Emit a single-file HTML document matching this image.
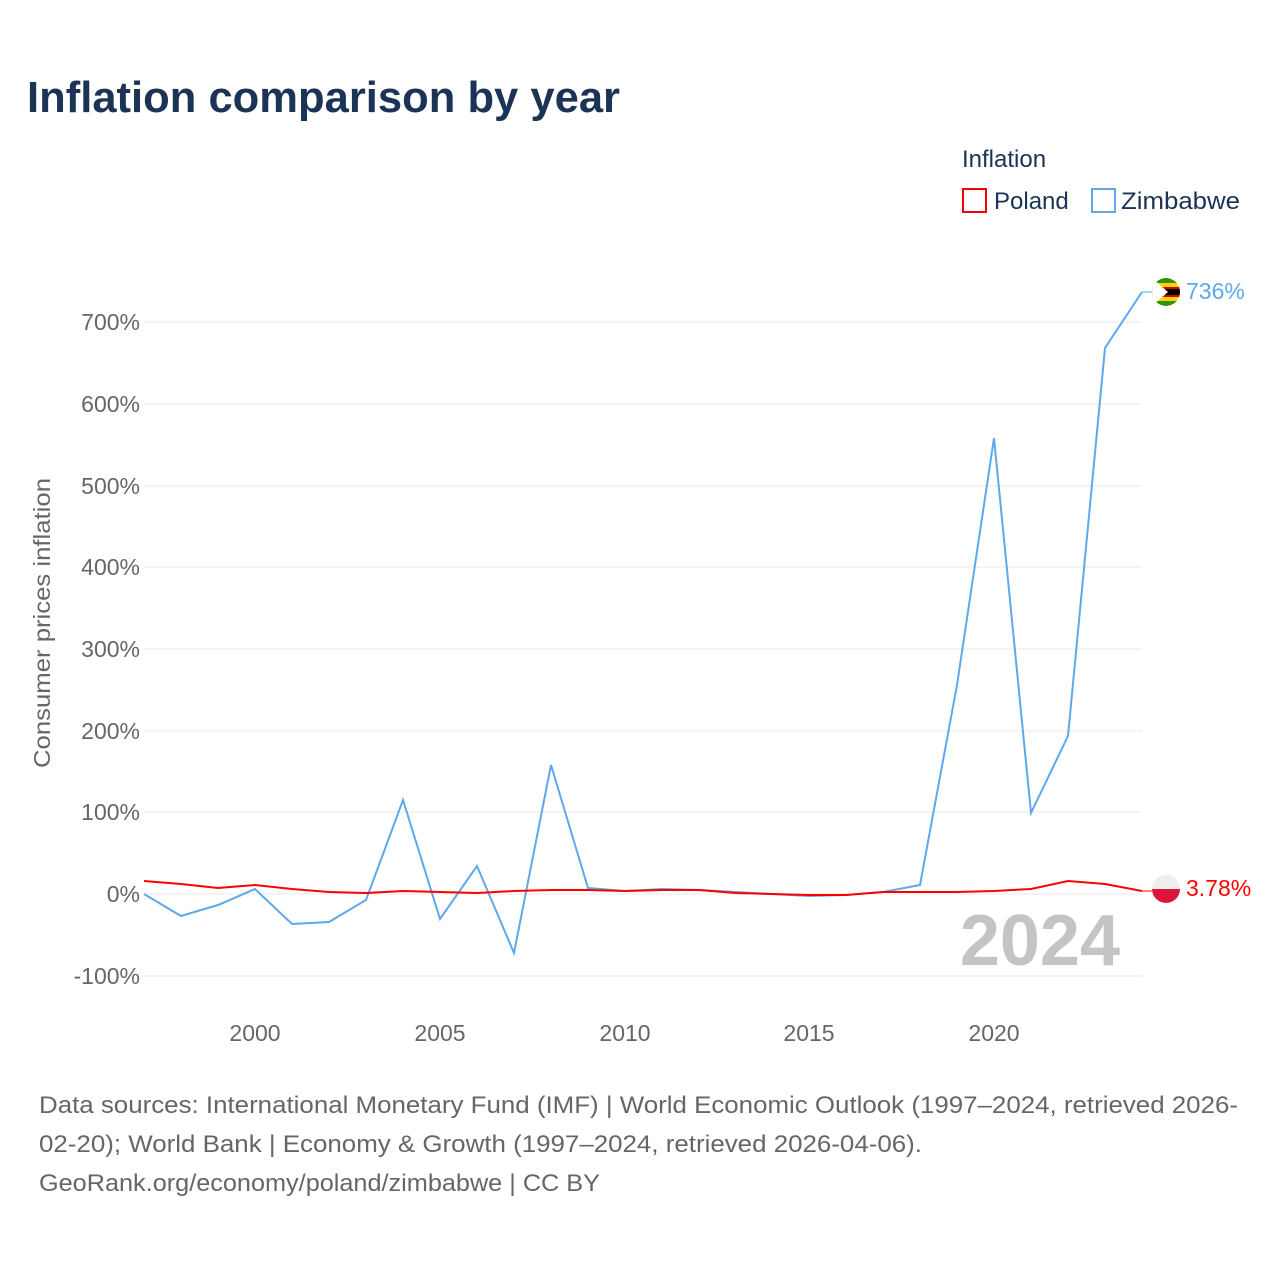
<!DOCTYPE html>
<html><head><meta charset="utf-8"><style>
body{margin:0;background:#fff;font-family:"Liberation Sans",sans-serif;}
</style></head><body>
<svg width="1280" height="1280" xmlns="http://www.w3.org/2000/svg" font-family="Liberation Sans, sans-serif">
<defs><clipPath id="c"><circle cx="1166" cy="292" r="14"/></clipPath></defs>
<rect width="1280" height="1280" fill="#fff"/>
<text x="27" y="112" font-size="44" font-weight="bold" fill="#1b3354" textLength="593" lengthAdjust="spacingAndGlyphs">Inflation comparison by year</text>
<text x="962" y="167" font-size="24" fill="#1b3354">Inflation</text>
<rect x="963" y="189" width="23" height="23" fill="none" stroke="#ff0000" stroke-width="2"/>
<text x="994" y="209" font-size="24" fill="#1b3354">Poland</text>
<rect x="1092" y="189" width="23" height="23" fill="none" stroke="#5ea8ec" stroke-width="2"/>
<text x="1121" y="209" font-size="24" fill="#1b3354" textLength="119" lengthAdjust="spacingAndGlyphs">Zimbabwe</text>
<g stroke="#e8e8e8" stroke-width="1">
<line x1="144" x2="1142" y1="322" y2="322"/><line x1="144" x2="1142" y1="404" y2="404"/>
<line x1="144" x2="1142" y1="486" y2="486"/><line x1="144" x2="1142" y1="567" y2="567"/>
<line x1="144" x2="1142" y1="649" y2="649"/><line x1="144" x2="1142" y1="731" y2="731"/>
<line x1="144" x2="1142" y1="812" y2="812"/><line x1="144" x2="1142" y1="894" y2="894"/>
<line x1="144" x2="1142" y1="976" y2="976"/>
</g>
<g font-size="23" fill="#666" text-anchor="end">
<text x="140" y="330">700%</text><text x="140" y="412">600%</text><text x="140" y="494">500%</text>
<text x="140" y="575">400%</text><text x="140" y="657">300%</text><text x="140" y="739">200%</text>
<text x="140" y="820">100%</text><text x="140" y="902">0%</text><text x="140" y="984">-100%</text>
</g>
<g font-size="23" fill="#666" text-anchor="middle">
<text x="255" y="1041">2000</text><text x="440" y="1041">2005</text><text x="625" y="1041">2010</text>
<text x="809" y="1041">2015</text><text x="994" y="1041">2020</text>
</g>
<text transform="translate(50,623) rotate(-90)" font-size="23" fill="#666" text-anchor="middle" textLength="290" lengthAdjust="spacingAndGlyphs">Consumer prices inflation</text>
<text x="1120" y="965" font-size="72" font-weight="bold" fill="#c4c4c4" text-anchor="end">2024</text>
<polyline fill="none" stroke="#5ea8ec" stroke-width="2" points="144,894 181,916 218,905 255,889 292,924 329,922 366,900 403,800 440,919 477,866 514,953 551,765 588,888 625,891 662,889 699,890 736,892 772,894 809,896 846,895 883,892 920,885 957,685 994,438 1031,813 1068,736 1105,348 1142,292"/>
<polyline fill="none" stroke="#ff0000" stroke-width="2" points="144,881 181,884 218,888 255,885 292,889 329,892 366,893 403,891 440,892 477,893 514,891 551,890 588,890 625,891 662,890 699,890 736,893 772,894 809,895 846,895 883,892 920,892 957,892 994,891 1031,889 1068,881 1105,884 1142,891"/>
<line x1="1142" y1="292" x2="1152" y2="292" stroke="#5ea8ec"/>
<g clip-path="url(#c)">
<rect x="1152" y="278" width="28" height="5" fill="#319208"/><rect x="1152" y="283" width="28" height="4" fill="#ffd200"/>
<rect x="1152" y="287" width="28" height="2" fill="#d40000"/>
<rect x="1152" y="289" width="28" height="6" fill="#000"/>
<rect x="1152" y="295" width="28" height="2" fill="#d40000"/>
<rect x="1152" y="297" width="28" height="4" fill="#ffd200"/><rect x="1152" y="301" width="28" height="5" fill="#319208"/>
<polygon points="1152,278 1168,292 1152,306" fill="#fff"/>
</g>
<text x="1186" y="299" font-size="23" fill="#5ea8ec">736%</text>
<line x1="1142" y1="891" x2="1152" y2="891" stroke="#ff0000"/>
<path d="M1152,889 a14,14 0 0 1 28,0 z" fill="#eee"/><path d="M1152,889 a14,14 0 0 0 28,0 z" fill="#dc143c"/>
<text x="1186" y="896" font-size="23" fill="#ff0000">3.78%</text>
<g font-size="24" fill="#666">
<text x="39" y="1113" textLength="1199" lengthAdjust="spacingAndGlyphs">Data sources: International Monetary Fund (IMF) | World Economic Outlook (1997–2024, retrieved 2026-</text>
<text x="39" y="1152" textLength="883" lengthAdjust="spacingAndGlyphs">02-20); World Bank | Economy &amp; Growth (1997–2024, retrieved 2026-04-06).</text>
<text x="39" y="1191" textLength="561" lengthAdjust="spacingAndGlyphs">GeoRank.org/economy/poland/zimbabwe | CC BY</text>
</g>
</svg>
</body></html>
